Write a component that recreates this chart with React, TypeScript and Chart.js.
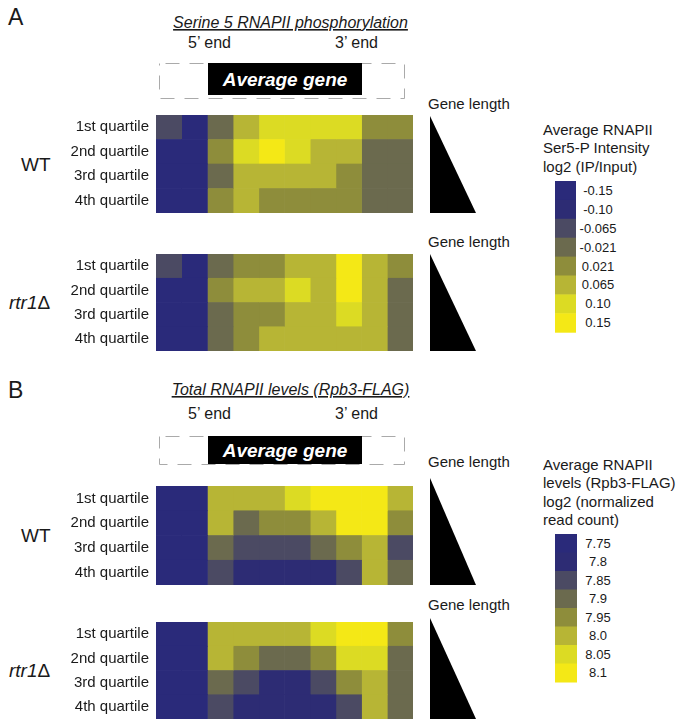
import React, { useEffect, useRef } from 'react';
import { Chart, registerables } from 'chart.js';
Chart.register(...registerables);

const FONT = '"Liberation Sans", Arial, Helvetica, sans-serif';
const TXT = '#1a1a1a';

const geneBins = ['1', '2', '3', '4', '5', '6', '7', '8', '9', '10'];
const quartiles = ['1st quartile', '2nd quartile', '3rd quartile', '4th quartile'];

const ser5Ticks = [-0.15, -0.1, -0.065, -0.021, 0.021, 0.065, 0.1, 0.15];
const ser5TickLabels = ['-0.15', '-0.10', '-0.065', '-0.021', '0.021', '0.065', '0.10', '0.15'];
const rpb3Ticks = [7.75, 7.8, 7.85, 7.9, 7.95, 8.0, 8.05, 8.1];
const rpb3TickLabels = ['7.75', '7.8', '7.85', '7.9', '7.95', '8.0', '8.05', '8.1'];
const scaleColors = ['#2a2a7a', '#2d2c74', '#4b4a63', '#6b6a4e', '#8e8d3b', '#b7b535', '#dcdb23', '#f4e816'];

const ser5WT = [
  [-0.065, -0.15, -0.021, 0.065, 0.1, 0.1, 0.1, 0.1, 0.021, 0.021],
  [-0.15, -0.15, 0.021, 0.1, 0.15, 0.1, 0.065, 0.065, -0.021, -0.021],
  [-0.15, -0.15, -0.021, 0.065, 0.065, 0.065, 0.065, 0.021, -0.021, -0.021],
  [-0.15, -0.15, 0.021, 0.065, 0.021, 0.021, 0.021, 0.021, -0.021, -0.021],
];
const ser5Rtr1 = [
  [-0.065, -0.15, -0.021, 0.021, 0.021, 0.065, 0.065, 0.15, 0.065, 0.021],
  [-0.15, -0.15, 0.021, 0.065, 0.065, 0.1, 0.065, 0.15, 0.065, -0.021],
  [-0.15, -0.15, -0.021, 0.021, 0.021, 0.065, 0.065, 0.1, 0.065, -0.021],
  [-0.15, -0.15, -0.021, 0.021, 0.065, 0.065, 0.065, 0.065, 0.065, -0.021],
];
const rpb3WT = [
  [7.75, 7.75, 8.0, 8.0, 8.0, 8.05, 8.1, 8.1, 8.1, 8.0],
  [7.75, 7.75, 8.0, 7.9, 7.95, 7.95, 8.0, 8.1, 8.1, 7.95],
  [7.75, 7.75, 7.9, 7.85, 7.85, 7.85, 7.9, 7.95, 8.0, 7.85],
  [7.75, 7.75, 7.85, 7.8, 7.8, 7.8, 7.8, 7.85, 8.0, 7.9],
];
const rpb3Rtr1 = [
  [7.75, 7.75, 8.0, 8.0, 8.0, 8.0, 8.05, 8.1, 8.1, 7.95],
  [7.75, 7.75, 8.0, 7.95, 7.9, 7.9, 7.95, 8.05, 8.05, 7.9],
  [7.75, 7.75, 7.9, 7.85, 7.8, 7.8, 7.85, 7.95, 8.0, 7.9],
  [7.75, 7.75, 7.85, 7.8, 7.8, 7.8, 7.8, 7.85, 8.0, 7.9],
];

function colorFor(v: number, ticks: number[]) {
  let best = 0;
  let bd = Infinity;
  ticks.forEach((t, i) => {
    const d = Math.abs(t - v);
    if (d < bd) { bd = d; best = i; }
  });
  return scaleColors[best];
}

function Heatmap({ matrix, ticks, top, height }: { matrix: number[][]; ticks: number[]; top: number; height: number }) {
  const ref = useRef<HTMLCanvasElement | null>(null);
  useEffect(() => {
    if (!ref.current) return;
    const chart = new Chart(ref.current, {
      type: 'bar',
      data: {
        labels: quartiles,
        datasets: geneBins.map((b, ci) => ({
          label: 'bin ' + b,
          data: quartiles.map(() => 1),
          backgroundColor: matrix.map((row) => colorFor(row[ci], ticks)),
          borderWidth: 0,
          barPercentage: 1,
          categoryPercentage: 1,
        })),
      },
      options: {
        indexAxis: 'y',
        animation: false,
        responsive: false,
        maintainAspectRatio: false,
        events: [],
        layout: { padding: 0 },
        plugins: { legend: { display: false }, tooltip: { enabled: false } },
        scales: {
          x: { stacked: true, min: 0, max: geneBins.length, display: false },
          y: {
            stacked: true,
            grid: { display: false, drawTicks: false },
            border: { display: false },
            ticks: { font: { family: FONT, size: 15 }, color: TXT, padding: 7 },
            afterFit: (s: any) => { s.width = 156; s.paddingTop = 0; s.paddingBottom = 0; },
          },
        },
      } as any,
    });
    return () => chart.destroy();
  }, [matrix, ticks]);
  return (
    <canvas ref={ref} width={413} height={height}
      style={{ position: 'absolute', left: 0, top, width: 413, height }} />
  );
}

function Txt(p: any) {
  const { children, ...rest } = p;
  return <text fontFamily={FONT} fill={TXT} {...rest}>{children}</text>;
}

function GeneLength({ textY, triTop, triBottom }: { textY: number; triTop: number; triBottom: number }) {
  return (
    <g>
      <Txt x={428} y={textY} fontSize={15}>Gene length</Txt>
      <polygon points={`430,${triTop} 430,${triBottom} 476,${triBottom}`} fill="#000" />
    </g>
  );
}

function Header({ letter, letterY, title, titleY, endY, boxTop, boxH, dashH }: any) {
  return (
    <g>
      <Txt x={8} y={letterY} fontSize={23}>{letter}</Txt>
      <Txt x={290.5} y={titleY} fontSize={16} fontStyle="italic" textAnchor="middle" textDecoration="underline">{title}</Txt>
      <Txt x={188} y={endY} fontSize={16}>5’ end</Txt>
      <Txt x={335} y={endY} fontSize={16}>3’ end</Txt>
      <rect x={159.5} y={boxTop + 0.5} width={245} height={dashH} fill="none" stroke="#aaaaaa" strokeWidth={1} strokeDasharray="14 10" strokeDashoffset={-6} />
      <rect x={208} y={boxTop} width={154} height={boxH} fill="#000" />
      <text x={285} y={boxTop + boxH / 2 + 6.5} fontFamily={FONT} fontSize={19} fontWeight="bold" fontStyle="italic" fill="#fff" textAnchor="middle">Average gene</text>
    </g>
  );
}

function ColorLegend({ lines, firstBaseline, lineGap, barTop, swatchH, barW, labels }: any) {
  return (
    <g>
      {lines.map((l: string, i: number) => (
        <Txt key={l} x={543} y={firstBaseline + i * lineGap} fontSize={15}>{l}</Txt>
      ))}
      {labels.map((lab: string, i: number) => (
        <g key={lab}>
          <rect x={555} y={barTop + i * swatchH} width={barW} height={swatchH + 0.5} fill={scaleColors[i]} />
          <Txt x={598} y={barTop + i * swatchH + swatchH / 2 + 4.5} fontSize={13} textAnchor="middle">{lab}</Txt>
        </g>
      ))}
    </g>
  );
}

function Strain({ name, y }: { name: string; y: number }) {
  if (name === 'WT') return <Txt x={21} y={y} fontSize={19}>WT</Txt>;
  return (
    <Txt x={9} y={y} fontSize={19}>
      <tspan fontStyle="italic">rtr1</tspan>Δ
    </Txt>
  );
}

export default function App() {
  return (
    <div style={{ position: 'absolute', left: 0, top: 0, width: 700, height: 720, background: '#fff', overflow: 'hidden' }}>
      <svg width={700} height={720} style={{ position: 'absolute', left: 0, top: 0 }}>
        <Header letter="A" letterY={25} title="Serine 5 RNAPII phosphorylation" titleY={28} endY={48} boxTop={63} boxH={32} dashH={35} />
        <Header letter="B" letterY={398} title="Total RNAPII levels (Rpb3-FLAG)" titleY={395} endY={419} boxTop={436} boxH={28} dashH={28} />
        <Strain name="WT" y={171} />
        <Strain name="rtr1" y={309} />
        <Strain name="WT" y={542} />
        <Strain name="rtr1" y={677} />
        <GeneLength textY={109} triTop={116} triBottom={213} />
        <GeneLength textY={247} triTop={254} triBottom={351} />
        <GeneLength textY={467} triTop={478} triBottom={585} />
        <GeneLength textY={610} triTop={618} triBottom={719} />
        <ColorLegend lines={['Average RNAPII', 'Ser5-P Intensity', 'log2 (IP/Input)']} firstBaseline={135} lineGap={18.3}
          barTop={181} swatchH={18.9} barW={21} labels={ser5TickLabels} />
        <ColorLegend lines={['Average RNAPII', 'levels (Rpb3-FLAG)', 'log2 (normalized', 'read count)']} firstBaseline={470} lineGap={18.3}
          barTop={534} swatchH={18.5} barW={22} labels={rpb3TickLabels} />
      </svg>
      <Heatmap matrix={ser5WT} ticks={ser5Ticks} top={115} height={98} />
      <Heatmap matrix={ser5Rtr1} ticks={ser5Ticks} top={254} height={97} />
      <Heatmap matrix={rpb3WT} ticks={rpb3Ticks} top={486} height={99} />
      <Heatmap matrix={rpb3Rtr1} ticks={rpb3Ticks} top={622} height={97} />
    </div>
  );
}
